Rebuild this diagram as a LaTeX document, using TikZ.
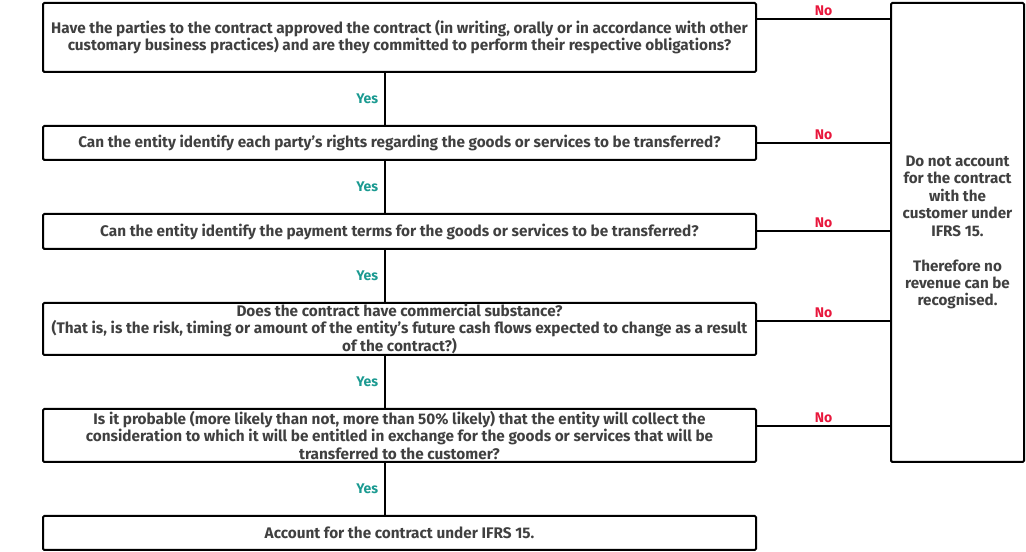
\documentclass[tikz,border=0pt]{standalone}
\usepackage{fontspec}
\setmainfont{Fira Sans}
\definecolor{qtext}{HTML}{404040}
\definecolor{yesteal}{HTML}{1B9A91}
\definecolor{nored}{HTML}{E8173C}
\tikzset{
	qbox/.style={draw=black, line width=1.5pt, rounded corners=1pt, minimum width=534.75pt, inner sep=0pt, align=center, text=qtext, font=\fontsize{11.5}{12.9}\selectfont\bfseries},
	stopbox/.style={qbox, minimum width=99.75pt, minimum height=344.25pt, font=\fontsize{11.4}{13.1}\selectfont\bfseries},
	flow/.style={line width=1.5pt},
	yeslabel/.style={left=1pt, text=yesteal, font=\fontsize{10.5}{12}\selectfont\bfseries},
	nolabel/.style={above=-1.5pt, text=nored, font=\fontsize{10.5}{12}\selectfont\bfseries}
}

\begin{document}
\begin{tikzpicture}[x=0.75pt, y=-0.75pt]
				\useasboundingbox (0,0) rectangle (1026,552);
				
				% questions
				\node[qbox, minimum height=51.75pt] (approved) at (399.5,37.5) {Have the parties to the contract approved the contract (in writing, orally or in accordance with other\\customary business practices) and are they committed to perform their respective obligations?};
				\node[qbox, minimum height=25.5pt] (rights) at (399.5,143) {Can the entity identify each party's rights regarding the goods or services to be transferred?};
				\node[qbox, minimum height=26.25pt] (payment) at (399.5,231.5) {Can the entity identify the payment terms for the goods or services to be transferred?};
				\node[qbox, minimum height=39pt] (substance) at (399.5,329) {Does the contract have commercial substance?\\(That is, is the risk, timing or amount of the entity's future cash flows expected to change as a result\\of the contract?)};
				\node[qbox, minimum height=39.75pt] (probable) at (399.5,435.5) {Is it probable (more likely than not, more than 50\% likely) that the entity will collect the\\consideration to which it will be entitled in exchange for the goods or services that will be\\transferred to the customer?};
				\node[qbox, minimum height=25.5pt] (account) at (399.5,533) {Account for the contract under IFRS 15.};
				
				% outcome for every No
				\node[stopbox] (stop) at (957.5,232.5) {Do not account\\for the contract\\with the\\customer under\\IFRS 15.\\[13.1pt]Therefore no\\revenue can be\\recognised.};
				
				\coordinate (spine) at (385,0);
				\draw[flow] (approved.south -| spine) -- node[yeslabel] {Yes} (rights.north -| spine);
				\draw[flow] (rights.south -| spine) -- node[yeslabel] {Yes} (payment.north -| spine);
				\draw[flow] (payment.south -| spine) -- node[yeslabel] {Yes} (substance.north -| spine);
				\draw[flow] (substance.south -| spine) -- node[yeslabel] {Yes} (probable.north -| spine);
				\draw[flow] (probable.south -| spine) -- node[yeslabel] {Yes} (account.north -| spine);
				
				\draw[flow] ([yshift=13.875pt]approved.east) -- node[nolabel] {No} ([yshift=13.875pt]approved.east -| stop.west);
				\draw[flow] (rights.east) -- node[nolabel] {No} (rights.east -| stop.west);
				\draw[flow] (payment.east) -- node[nolabel] {No} (payment.east -| stop.west);
				\draw[flow] ([yshift=6pt]substance.east) -- node[nolabel] {No} ([yshift=6pt]substance.east -| stop.west);
				\draw[flow] ([yshift=7.125pt]probable.east) -- node[nolabel] {No} ([yshift=7.125pt]probable.east -| stop.west);
			\end{tikzpicture}
\end{document}
